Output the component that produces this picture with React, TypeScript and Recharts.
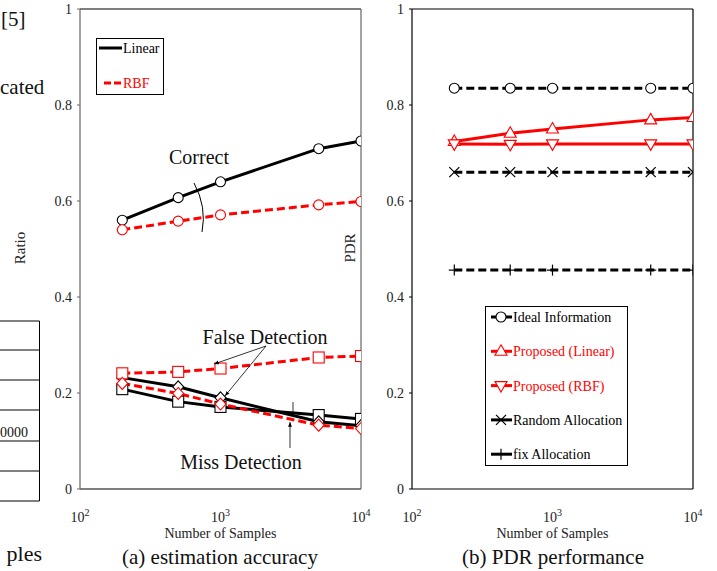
import React from 'react';
import { LineChart, Line, XAxis, YAxis, ReferenceLine, Legend } from 'recharts';

// x values (number of samples)
const samples = [200, 500, 1000, 5000, 10000];

// (a) estimation accuracy
const correctLinear = [0.56, 0.607, 0.64, 0.709, 0.725];
const correctRbf = [0.54, 0.558, 0.571, 0.592, 0.599];
const falseLinear = [0.208, 0.182, 0.171, 0.154, 0.146];
const falseRbf = [0.241, 0.244, 0.251, 0.274, 0.277];
const missLinear = [0.232, 0.213, 0.19, 0.14, 0.132];
const missRbf = [0.22, 0.199, 0.177, 0.133, 0.126];

// (b) PDR performance
const idealInfo = [0.835, 0.835, 0.835, 0.835, 0.835];
const propLinear = [0.724, 0.741, 0.75, 0.769, 0.774];
const propRbf = [0.719, 0.718, 0.719, 0.719, 0.719];
const randomAlloc = [0.66, 0.66, 0.66, 0.66, 0.66];
const fixAlloc = [0.456, 0.456, 0.456, 0.456, 0.456];

const yTicks = [0, 0.2, 0.4, 0.6, 0.8, 1];
const xTicks = [100, 1000, 10000];

const accData = samples.map((n, i) => ({
  n,
  correctLinear: correctLinear[i],
  correctRbf: correctRbf[i],
  falseLinear: falseLinear[i],
  falseRbf: falseRbf[i],
  missLinear: missLinear[i],
  missRbf: missRbf[i],
}));

const pdrData = samples.map((n, i) => ({
  n,
  idealInfo: idealInfo[i],
  propLinear: propLinear[i],
  propRbf: propRbf[i],
  randomAlloc: randomAlloc[i],
  fixAlloc: fixAlloc[i],
}));

const FONT = '"Liberation Serif", "Times New Roman", serif';
const RED = '#ff0000';

type Shape = 'circle' | 'square' | 'diamond' | 'up' | 'down' | 'x' | 'plus';

function Marker({ shape, cx, cy, color }: { shape: Shape; cx: number; cy: number; color: string }) {
  const s = 5.5;
  const common = { fill: '#fff', stroke: color, strokeWidth: 1.1 };
  switch (shape) {
    case 'circle':
      return <circle cx={cx} cy={cy} r={5} {...common} />;
    case 'square':
      return <rect x={cx - s} y={cy - s} width={2 * s} height={2 * s} {...common} />;
    case 'diamond':
      return <polygon points={`${cx},${cy - 6} ${cx + 5.5},${cy} ${cx},${cy + 6} ${cx - 5.5},${cy}`} {...common} />;
    case 'up':
      return <polygon points={`${cx},${cy - 6.5} ${cx + 6},${cy + 4} ${cx - 6},${cy + 4}`} {...common} />;
    case 'down':
      return <polygon points={`${cx},${cy + 6.5} ${cx + 6},${cy - 4} ${cx - 6},${cy - 4}`} {...common} />;
    case 'x':
      return (
        <g stroke={color} strokeWidth={1.2}>
          <line x1={cx - 5} y1={cy - 5} x2={cx + 5} y2={cy + 5} />
          <line x1={cx - 5} y1={cy + 5} x2={cx + 5} y2={cy - 5} />
        </g>
      );
    default:
      return (
        <g stroke={color} strokeWidth={1.2}>
          <line x1={cx - 5.5} y1={cy} x2={cx + 5.5} y2={cy} />
          <line x1={cx} y1={cy - 5.5} x2={cx} y2={cy + 5.5} />
        </g>
      );
  }
}

const dotOf = (shape: Shape, color: string) => (p: any) => (
  <Marker key={`${shape}-${p.index}`} shape={shape} cx={p.cx} cy={p.cy} color={color} />
);

function PowTick(props: any) {
  const { x, y, payload } = props;
  const exp = Math.round(Math.log10(payload.value));
  return (
    <text x={x} y={y + 33} textAnchor="middle" fontSize={14} fontFamily={FONT} fill="#222">
      10
      <tspan dy={-6} fontSize={10}>{exp}</tspan>
    </text>
  );
}

function InTick(props: any) {
  const { x, y } = props;
  return <line x1={x - 4} y1={y} x2={x} y2={y} stroke="#333" strokeWidth={1} />;
}

const fmtY = (v: number) => (v === 0 || v === 1 ? String(v) : v.toFixed(1));

function LeftLegend() {
  return (
    <svg width={68} height={57} style={{ display: 'block' }}>
      <rect x={0.5} y={0.5} width={67} height={56} fill="#fff" stroke="#000" />
      <line x1={3} y1={10} x2={26} y2={10} stroke="#000" strokeWidth={3} />
      <text x={27} y={15} fontSize={14} fontFamily={FONT} fill="#000">Linear</text>
      <line x1={8} y1={45} x2={26} y2={45} stroke={RED} strokeWidth={3} strokeDasharray="7 3" />
      <text x={27} y={50} fontSize={14} fontFamily={FONT} fill={RED}>RBF</text>
    </svg>
  );
}

const pdrLegend: { label: string; color: string; shape: Shape }[] = [
  { label: 'Ideal Information', color: '#000', shape: 'circle' },
  { label: 'Proposed (Linear)', color: RED, shape: 'up' },
  { label: 'Proposed (RBF)', color: RED, shape: 'down' },
  { label: 'Random Allocation', color: '#000', shape: 'x' },
  { label: 'fix Allocation', color: '#000', shape: 'plus' },
];

function RightLegend() {
  return (
    <svg width={143} height={160} style={{ display: 'block' }}>
      <rect x={0.5} y={0.5} width={142} height={159} fill="#fff" stroke="#000" />
      {pdrLegend.map((e, i) => {
        const y = 11 + i * 34.3;
        return (
          <g key={e.label}>
            <line x1={6} y1={y} x2={27} y2={y} stroke={e.color} strokeWidth={3} />
            <Marker shape={e.shape} cx={16} cy={y} color={e.color} />
            <text x={28} y={y + 5} fontSize={14} fontFamily={FONT} fill={e.color}>{e.label}</text>
          </g>
        );
      })}
    </svg>
  );
}

function Panel({ data, width, frame, children, legend, legendPos }: any) {
  return (
    <LineChart width={width} height={571} data={data} margin={{ top: 9, right: width - 371, bottom: 32, left: 40 }}>
      <XAxis
        dataKey="n"
        type="number"
        scale="log"
        domain={[100, 10000]}
        ticks={xTicks}
        allowDataOverflow
        interval={0}
        height={50}
        tickLine={false}
        tickSize={0}
        tickMargin={0}
        tick={<PowTick />}
        axisLine={{ stroke: '#000', strokeWidth: 1.2 }}
        label={{ value: 'Number of Samples', position: 'insideBottom', offset: 1, fontSize: 14, fontFamily: FONT, fill: '#222' }}
      />
      <YAxis
        domain={[0, 1]}
        ticks={yTicks}
        width={40}
        tickSize={3}
        tickMargin={5}
        tickFormatter={fmtY}
        tick={{ fontSize: 14, fontFamily: FONT, fill: '#222' }}
        axisLine={{ stroke: frame, strokeWidth: 1.2 }}
        tickLine={{ stroke: frame }}
      />
      <YAxis
        yAxisId="r"
        orientation="right"
        domain={[0, 1]}
        ticks={[0.2, 0.4, 0.6, 0.8]}
        width={10}
        tickSize={0}
        tickMargin={0}
        tick={<InTick />}
        axisLine={{ stroke: frame, strokeWidth: 1.2 }}
      />
      <ReferenceLine y={1} stroke="#000" strokeWidth={1.2} />
      {children}
      <Legend
        verticalAlign="middle"
        layout="horizontal"
        wrapperStyle={{ left: legendPos[0], top: legendPos[1], width: 'auto' }}
        content={legend}
      />
    </LineChart>
  );
}

export default function App() {
  const solid = { type: 'linear' as const, strokeWidth: 3, activeDot: false, isAnimationActive: false };
  const dashed = { ...solid, strokeDasharray: '8 4' };
  return (
    <div style={{ position: 'absolute', left: 0, top: 0, width: 717, height: 571, background: '#fff', fontFamily: FONT, overflow: 'hidden' }}>
      {/* surrounding page fragments */}
      <svg width={717} height={571} style={{ position: 'absolute', left: 0, top: 0 }}>
        <text x={1} y={26} fontSize={21} fontFamily={FONT} fill="#111">[5]</text>
        <text x={0} y={94} fontSize={21} fontFamily={FONT} fill="#111">cated</text>
        {[321, 350, 380, 410, 441, 471, 501].map((y) => (
          <line key={y} x1={0} y1={y} x2={39.5} y2={y} stroke="#000" strokeWidth={1} />
        ))}
        <line x1={39.5} y1={321} x2={39.5} y2={501} stroke="#000" strokeWidth={1} />
        <text x={28} y={437} textAnchor="end" fontSize={14} fontFamily={FONT} fill="#111">0000</text>
        <text x={42} y={561} textAnchor="end" fontSize={22} fontFamily={FONT} fill="#111">ples</text>
      </svg>

      <div style={{ position: 'absolute', left: 0, top: 0 }}>
        <Panel data={accData} width={380} frame="#666" legend={LeftLegend} legendPos={[96, 38]}>
          <Line dataKey="correctLinear" stroke="#000" {...solid} dot={dotOf('circle', '#000')} />
          <Line dataKey="correctRbf" stroke={RED} {...dashed} dot={dotOf('circle', RED)} />
          <Line dataKey="falseLinear" stroke="#000" {...solid} dot={dotOf('square', '#000')} />
          <Line dataKey="missLinear" stroke="#000" {...solid} dot={dotOf('diamond', '#000')} />
          <Line dataKey="falseRbf" stroke={RED} {...dashed} dot={dotOf('square', RED)} />
          <Line dataKey="missRbf" stroke={RED} {...dashed} dot={dotOf('diamond', RED)} />
        </Panel>
      </div>

      <div style={{ position: 'absolute', left: 332, top: 0 }}>
        <Panel data={pdrData} width={385} frame="#000" legend={RightLegend} legendPos={[153, 306]}>
          <Line dataKey="idealInfo" stroke="#000" {...dashed} dot={dotOf('circle', '#000')} />
          <Line dataKey="propLinear" stroke={RED} {...solid} dot={dotOf('up', RED)} />
          <Line dataKey="propRbf" stroke={RED} {...solid} dot={dotOf('down', RED)} />
          <Line dataKey="randomAlloc" stroke="#000" {...dashed} dot={dotOf('x', '#000')} />
          <Line dataKey="fixAlloc" stroke="#000" {...dashed} dot={dotOf('plus', '#000')} />
        </Panel>
      </div>

      {/* annotations, axis titles and captions */}
      <svg width={717} height={571} style={{ position: 'absolute', left: 0, top: 0, pointerEvents: 'none' }}>
        <defs>
          <marker id="ah" viewBox="0 0 10 10" refX="10" refY="5" markerWidth="6" markerHeight="6" orient="auto-start-reverse">
            <path d="M0,1 L10,5 L0,9 z" fill="#000" />
          </marker>
        </defs>
        <text x={20} y={248} transform="rotate(-90 20 248)" textAnchor="middle" dominantBaseline="central" fontSize={15} fontFamily={FONT} fill="#222">Ratio</text>
        <text x={350} y={248} transform="rotate(-90 350 248)" textAnchor="middle" dominantBaseline="central" fontSize={15} fontFamily={FONT} fill="#222">PDR</text>

        <text x={199} y={164} textAnchor="middle" fontSize={20} fontFamily={FONT} fill="#111">Correct</text>
        <path d="M194,183 Q207,207 202,232" fill="none" stroke="#000" strokeWidth={1} />

        <text x={265} y={344} textAnchor="middle" fontSize={20} fontFamily={FONT} fill="#111">False Detection</text>
        <line x1={266} y1={346} x2={214} y2={364} stroke="#000" strokeWidth={0.8} markerEnd="url(#ah)" />
        <line x1={266} y1={346} x2={225} y2={396} stroke="#000" strokeWidth={0.8} markerEnd="url(#ah)" />

        <text x={241} y={469} textAnchor="middle" fontSize={20} fontFamily={FONT} fill="#111">Miss Detection</text>
        <line x1={290} y1={448} x2={290} y2={422} stroke="#000" strokeWidth={0.8} markerEnd="url(#ah)" />
        <line x1={293} y1={402} x2={293} y2={414} stroke="#000" strokeWidth={0.8} />

        <text x={220} y={564} textAnchor="middle" fontSize={21} fontFamily={FONT} fill="#111">(a) estimation accuracy</text>
        <text x={553} y={564} textAnchor="middle" fontSize={21} fontFamily={FONT} fill="#111">(b) PDR performance</text>
      </svg>
    </div>
  );
}
